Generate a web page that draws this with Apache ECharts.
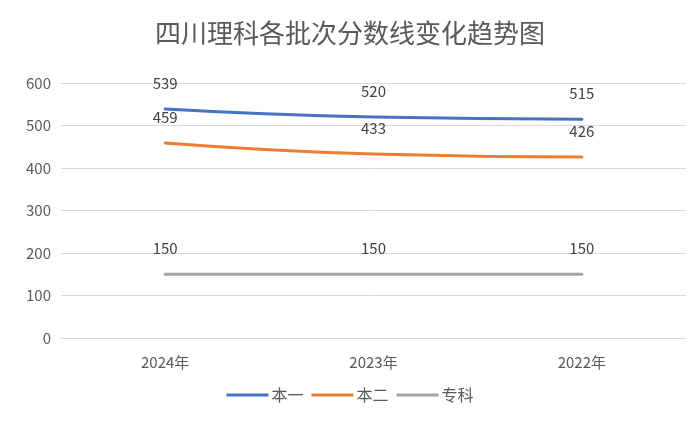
<!DOCTYPE html>
<html><head><meta charset="utf-8">
<script src="https://cdn.jsdelivr.net/npm/echarts@6/dist/echarts.min.js"></script>
<style>html,body{margin:0;padding:0;background:#fff}#c{width:700px;height:422px}</style>
</head><body><div id="c"></div>
<script>
const categories = ['2024年','2023年','2022年'];
const benYi = [539, 520, 515];
const benEr = [459, 433, 426];
const zhuanKe = [150, 150, 150];
const yTicks = [0, 100, 200, 300, 400, 500, 600];

const chart = echarts.init(document.getElementById('c'));
const font = '"Noto Sans CJK SC", "Noto Sans", sans-serif';
function line(name, data, color) {
  return {
    name, type: 'line', data, smooth: true, showSymbol: true, symbol: 'circle', symbolSize: 0.01,
    lineStyle: { color, width: 3, cap: 'round' }, itemStyle: { color },
    label: { show: true, position: 'top', distance: 18, color: '#404040', fontSize: 15, fontFamily: font }
  };
}
chart.setOption({
  animation: false,
  textStyle: { fontFamily: font },
  title: { text: '四川理科各批次分数线变化趋势图', left: 'center', top: 15,
    textStyle: { fontSize: 26, fontWeight: 'normal', color: '#595959', fontFamily: font } },
  grid: { left: 61, right: 14, top: 83, bottom: 84, containLabel: false },
  legend: { bottom: 14, left: 'center', itemWidth: 42, itemHeight: 3, itemGap: 8,
    icon: 'rect',
    textStyle: { fontSize: 16, color: '#595959', padding: [0, 0, 0, -2] },
    data: ['本一','本二','专科'] },
  xAxis: { type: 'category', data: categories, boundaryGap: true,
    axisLine: { lineStyle: { color: '#d9d9d9' } }, axisTick: { show: false },
    axisLabel: { color: '#595959', fontSize: 15, margin: 17 } },
  yAxis: { type: 'value', min: yTicks[0], max: yTicks[yTicks.length-1], interval: 100,
    axisLine: { show: false }, axisTick: { show: false },
    axisLabel: { color: '#595959', fontSize: 15, margin: 10 },
    splitLine: { lineStyle: { color: '#d9d9d9', width: 1 } } },
  series: [
    line('本一', benYi, '#4472C4'),
    line('本二', benEr, '#ED7D31'),
    line('专科', zhuanKe, '#A5A5A5')
  ]
});
</script></body></html>
